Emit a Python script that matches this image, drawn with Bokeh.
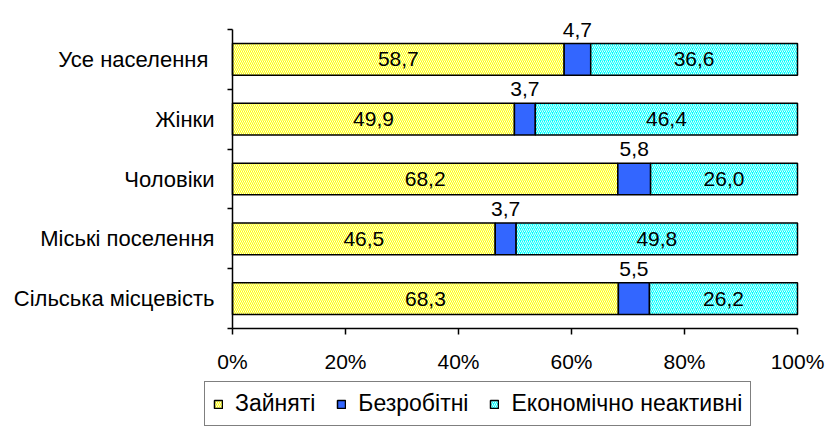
from bokeh.plotting import figure
from bokeh.models import (Range1d, FixedTicker, PrintfTickFormatter, ColumnDataSource,
                          Legend, LegendItem)
from bokeh.core.properties import value
from bokeh.embed import file_html
from bokeh.resources import INLINE

# ---- data ----
categories = ["Усе населення ", "Жінки", "Чоловіки", "Міські поселення", "Сільська місцевість"]
employed = [58.7, 49.9, 68.2, 46.5, 68.3]
unemployed = [4.7, 3.7, 5.8, 3.7, 5.5]
inactive = [36.6, 46.4, 26.0, 49.8, 26.2]
series_names = ["Зайняті", "Безробітні", "Економічно неактивні"]
x_ticks = [0, 20, 40, 60, 80, 100]

FONT = "Liberation Sans"
FS = "21px"
FS_CAT = "22px"
FS_LEG = "23px"

# ---- layout (pixels) ----
W, Hh = 825, 426
PL, PR = 232, 797        # x pixel of 0% and 100%
PT, PB = 29, 328         # y pixel of top and bottom of category axis

n = len(categories)
ypos = [n - i - 0.5 for i in range(n)]
boundaries = [float(i) for i in range(n + 1)]

sx = (PR - PL) / 100.0
sy = (PB - PT) / float(n)
x_start, x_end = -PL / sx, 100 + (W - PR) / sx
y_start, y_end = -(Hh - PB) / sy, n + PT / sy


def fmt(v):
    return f"{v:.1f}".replace(".", ",")


e_left = [0.0] * n
e_right = employed[:]
u_left = employed[:]
u_right = [a + b for a, b in zip(employed, unemployed)]
i_left = u_right[:]
i_right = [a + b for a, b in zip(u_right, inactive)]

BAR_H = 0.53
src = ColumnDataSource(dict(
    y=ypos,
    e_left=e_left, e_right=e_right,
    u_left=u_left, u_right=u_right,
    i_left=i_left, i_right=i_right,
    e_mid=[(a + b) / 2 for a, b in zip(e_left, e_right)],
    u_mid=[(a + b) / 2 for a, b in zip(u_left, u_right)],
    i_mid=[(a + b) / 2 for a, b in zip(i_left, i_right)],
    e_txt=[fmt(v) for v in employed],
    u_txt=[fmt(v) for v in unemployed],
    i_txt=[fmt(v) for v in inactive],
    top=[y + BAR_H / 2 for y in ypos],
))

p = figure(width=W, height=Hh, output_backend="svg", toolbar_location=None,
           x_range=Range1d(x_start, x_end), y_range=Range1d(y_start, y_end),
           min_border=0, min_border_left=0, min_border_right=0,
           min_border_top=0, min_border_bottom=0, outline_line_color=None)
p.xgrid.grid_line_color = None
p.ygrid.grid_line_color = None
p.background_fill_color = "white"
p.border_fill_color = "white"

common = dict(line_color="black", line_width=1.5)
r_e = p.hbar(y="y", left="e_left", right="e_right", height=BAR_H, source=src,
             fill_color="#FFFF00", hatch_pattern="left_diagonal_line",
             hatch_color="white", hatch_scale=4, hatch_weight=0.9, **common)
r_u = p.hbar(y="y", left="u_left", right="u_right", height=BAR_H, source=src,
             fill_color="#3366FF", **common)
r_i = p.hbar(y="y", left="i_left", right="i_right", height=BAR_H, source=src,
             fill_color="#00FFFF", hatch_pattern="right_diagonal_line",
             hatch_color="white", hatch_scale=4, hatch_weight=0.9, **common)

tcommon = dict(source=src, text_font=value(FONT), text_font_size=FS,
               text_align="center", text_color="black")
p.text(x="e_mid", y="y", text="e_txt", text_baseline="middle", **tcommon)
p.text(x="i_mid", y="y", text="i_txt", text_baseline="middle", **tcommon)
p.text(x="u_mid", y="top", text="u_txt", text_baseline="middle", y_offset=-14, **tcommon)

# y axis: labels at centres, tick marks at category boundaries
ya = p.yaxis[0]
ya.fixed_location = 0
ya.ticker = FixedTicker(ticks=ypos, minor_ticks=boundaries)
ya.major_label_overrides = {y: c for y, c in zip(ypos, categories)}
ya.bounds = (0, n)
ya.major_tick_out = 0
ya.major_tick_in = 0
ya.minor_tick_out = 5
ya.minor_tick_in = 0
ya.minor_tick_line_color = "black"
ya.minor_tick_line_width = 1.5
ya.axis_line_color = "black"
ya.axis_line_width = 1.5
ya.major_label_standoff = 13
ya.major_label_text_font = FONT
ya.major_label_text_font_size = FS_CAT
ya.major_label_text_color = "black"

xa = p.xaxis[0]
xa.fixed_location = 0
xa.ticker = FixedTicker(ticks=x_ticks, minor_ticks=[])
xa.formatter = PrintfTickFormatter(format="%d%%")
xa.bounds = (0, 100)
xa.major_tick_out = 6
xa.major_tick_in = 0
xa.major_tick_line_color = "black"
xa.major_tick_line_width = 1.5
xa.axis_line_color = "black"
xa.axis_line_width = 1.5
xa.major_label_standoff = 15
xa.major_label_text_font = FONT
xa.major_label_text_font_size = FS
xa.major_label_text_color = "black"

legend = Legend(items=[LegendItem(label=s, renderers=[r]) for s, r in
                       zip(series_names, [r_e, r_u, r_i])],
                orientation="horizontal", location=(204, 0),
                border_line_color="black", border_line_width=1,
                background_fill_color="white", background_fill_alpha=1,
                padding=8, margin=0, spacing=21,
                glyph_width=10, glyph_height=10, label_standoff=12,
                label_text_font=FONT, label_text_font_size=FS_LEG,
                label_text_color="black")
p.add_layout(legend)

open("out.html", "w").write(file_html(p, INLINE))
